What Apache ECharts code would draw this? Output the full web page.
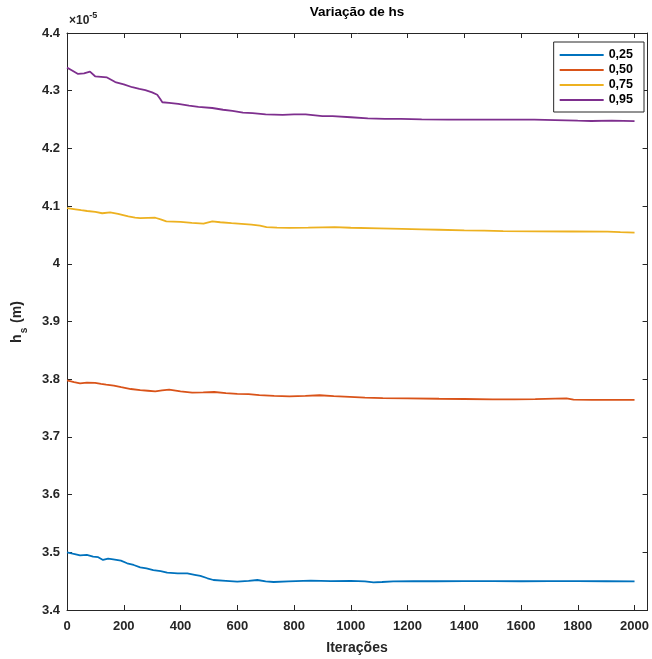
<!DOCTYPE html>
<html>
<head>
<meta charset="utf-8">
<script src="https://cdn.jsdelivr.net/npm/echarts@6/dist/echarts.min.js"></script>
<style>html,body{margin:0;padding:0;background:#fff;}#c{width:652px;height:659px;}</style>
</head>
<body>
<div id="c"></div>
<script>
const seriesNames = ['0,25', '0,50', '0,75', '0,95'];
const xTicks = [0, 200, 400, 600, 800, 1000, 1200, 1400, 1600, 1800, 2000];
const yTicks = [3.4, 3.5, 3.6, 3.7, 3.8, 3.9, 4.0, 4.1, 4.2, 4.3, 4.4];

const s025 = [[0,3.500],[4,3.4993],[20,3.4975],[46,3.4948],[70,3.4955],[92,3.4924],[110,3.4915],[127,3.4867],[145,3.489],[163,3.4879],[190,3.4855],[212,3.481],[235,3.478],[258,3.474],[280,3.472],[304,3.4693],[330,3.4672],[353,3.4647],[390,3.4636],[424,3.4636],[450,3.461],[470,3.459],[495,3.455],[516,3.452],[560,3.4505],[600,3.4491],[640,3.4505],[671,3.452],[700,3.4495],[728,3.4485],[780,3.4495],[859,3.4508],[930,3.450],[1000,3.4505],[1050,3.4495],[1080,3.448],[1110,3.4485],[1150,3.4495],[1220,3.4498],[1300,3.4498],[1400,3.4500],[1500,3.4499],[1600,3.4498],[1700,3.4499],[1800,3.4499],[1900,3.4498],[2000,3.4497]];
const s050 = [[0,3.798],[6,3.7985],[25,3.795],[46,3.7927],[70,3.794],[99,3.7937],[120,3.792],[138,3.7906],[165,3.789],[191,3.7863],[225,3.783],[258,3.781],[285,3.780],[311,3.7789],[335,3.7805],[360,3.782],[400,3.779],[441,3.7767],[480,3.777],[519,3.7778],[560,3.776],[600,3.7746],[640,3.774],[678,3.7725],[730,3.771],[784,3.7704],[840,3.7712],[890,3.7722],[940,3.7705],[996,3.7693],[1050,3.768],[1113,3.7672],[1200,3.7668],[1311,3.7661],[1400,3.7657],[1500,3.7652],[1576,3.765],[1650,3.7655],[1720,3.7665],[1760,3.7668],[1785,3.7645],[1850,3.764],[1920,3.7641],[2000,3.764]];
const s075 = [[0,4.0965],[7,4.096],[30,4.0945],[50,4.093],[71,4.0915],[100,4.090],[124,4.0876],[152,4.0893],[180,4.0865],[216,4.082],[240,4.080],[258,4.0792],[285,4.0795],[311,4.0798],[330,4.077],[350,4.0736],[400,4.0725],[440,4.071],[481,4.0697],[512,4.0736],[540,4.072],[580,4.0705],[650,4.068],[680,4.066],[703,4.0635],[740,4.0628],[784,4.0624],[850,4.0628],[900,4.0632],[943,4.0635],[1000,4.0625],[1100,4.0615],[1180,4.0607],[1250,4.0598],[1311,4.059],[1400,4.058],[1470,4.0575],[1537,4.0568],[1650,4.0563],[1780,4.056],[1905,4.0557],[1950,4.0548],[2000,4.054]];
const s095 = [[0,4.340],[15,4.336],[39,4.329],[60,4.330],[81,4.333],[99,4.325],[120,4.324],[141,4.323],[170,4.315],[200,4.311],[230,4.306],[255,4.303],[276,4.301],[300,4.297],[318,4.293],[328,4.286],[336,4.280],[360,4.279],[392,4.277],[430,4.274],[463,4.272],[512,4.270],[550,4.267],[583,4.265],[620,4.262],[654,4.261],[700,4.259],[760,4.258],[800,4.259],[841,4.259],[900,4.256],[936,4.256],[1000,4.254],[1060,4.252],[1120,4.251],[1177,4.251],[1250,4.2502],[1343,4.2498],[1450,4.2498],[1550,4.2499],[1647,4.2498],[1720,4.249],[1800,4.248],[1848,4.2475],[1920,4.248],[2000,4.2472]];

const seriesData = [s025, s050, s075, s095];
const colors = ['#0072BD', '#D95319', '#EDB120', '#7E2F8E'];
const FONT = 'Liberation Sans, Arial, sans-serif';

const chart = echarts.init(document.getElementById('c'), null, {renderer: 'canvas'});
function mkAxis(extra) {
  return Object.assign({
    type: 'value',
    axisLine: {show: true, onZero: false, lineStyle: {color: '#262626', width: 1}},
    axisTick: {show: true, inside: true, length: 5, lineStyle: {color: '#262626', width: 1}},
    splitLine: {show: false}
  }, extra);
}
const option = {
  animation: false,
  backgroundColor: '#fff',
  color: colors,
  grid: {left: 67, right: 4, top: 33, bottom: 49, containLabel: false},
  legend: {
    orient: 'vertical', right: 8, top: 42,
    data: seriesNames.map(n => ({name: n, icon: 'rect'})),
    backgroundColor: '#fff',
    borderColor: '#262626', borderWidth: 1,
    padding: [6, 11, 5, 6],
    itemWidth: 44, itemHeight: 2, itemGap: 1,
    textStyle: {fontFamily: FONT, fontWeight: 'bold', fontSize: 12.5, color: '#000', padding: [0, 0, 0, 0], lineHeight: 14}
  },
  xAxis: [
    mkAxis({
      position: 'bottom', min: 0, max: 2046, interval: 200,
      axisLabel: {show: true, margin: 10, fontFamily: FONT, fontWeight: 'bold', fontSize: 13, color: '#262626',
        showMaxLabel: false,
        formatter: v => (xTicks.indexOf(Math.round(v)) >= 0 ? String(Math.round(v)) : '')}
    }),
    mkAxis({position: 'top', min: 0, max: 2046, interval: 200, axisLabel: {show: false}})
  ],
  yAxis: [
    mkAxis({
      position: 'left', min: 3.4, max: 4.4, interval: 0.1,
      axisLabel: {show: true, margin: 7, fontFamily: FONT, fontWeight: 'bold', fontSize: 13, color: '#262626',
        formatter: v => String(+(+v).toFixed(1))}
    }),
    mkAxis({position: 'right', min: 3.4, max: 4.4, interval: 0.1, axisLabel: {show: false}})
  ],
  series: seriesNames.map((n, i) => ({
    name: n, type: 'line', xAxisIndex: 0, yAxisIndex: 0,
    data: seriesData[i], symbol: 'none', showSymbol: false,
    lineStyle: {width: 1.8, color: colors[i]},
    itemStyle: {color: colors[i]}
  })),
  graphic: [
    {type: 'text', x: 357, y: 12, style: {text: 'Variação de hs', textAlign: 'center', textVerticalAlign: 'middle',
      font: 'bold 13.5px ' + FONT, fill: '#000'}},
    {type: 'text', x: 357, y: 648, style: {text: 'Iterações', textAlign: 'center', textVerticalAlign: 'middle',
      font: 'bold 14px ' + FONT, fill: '#262626'}},
    {type: 'text', x: 69, y: 19, style: {
      text: '{a|×10}{e|-5}', textVerticalAlign: 'middle',
      rich: {a: {fontFamily: FONT, fontSize: 12, fontWeight: 'bold', fill: '#262626', lineHeight: 16, verticalAlign: 'bottom'},
             e: {fontFamily: FONT, fontSize: 9, fontWeight: 'bold', fill: '#262626', lineHeight: 16, verticalAlign: 'bottom', padding: [0, 0, 7, 0]}}}},
    {type: 'text', x: 21, y: 322, rotation: Math.PI / 2, style: {
      text: '{a|h}{s|s}{a| (m)}', textAlign: 'center', textVerticalAlign: 'middle',
      rich: {a: {fontFamily: FONT, fontSize: 14, fontWeight: 'bold', fill: '#262626', lineHeight: 22, verticalAlign: 'top'},
             s: {fontFamily: FONT, fontSize: 10, fontWeight: 'bold', fill: '#262626', lineHeight: 22, verticalAlign: 'top', padding: [9, 1, 0, 1]}}}}
  ]
};
chart.setOption(option);
</script>
</body>
</html>
